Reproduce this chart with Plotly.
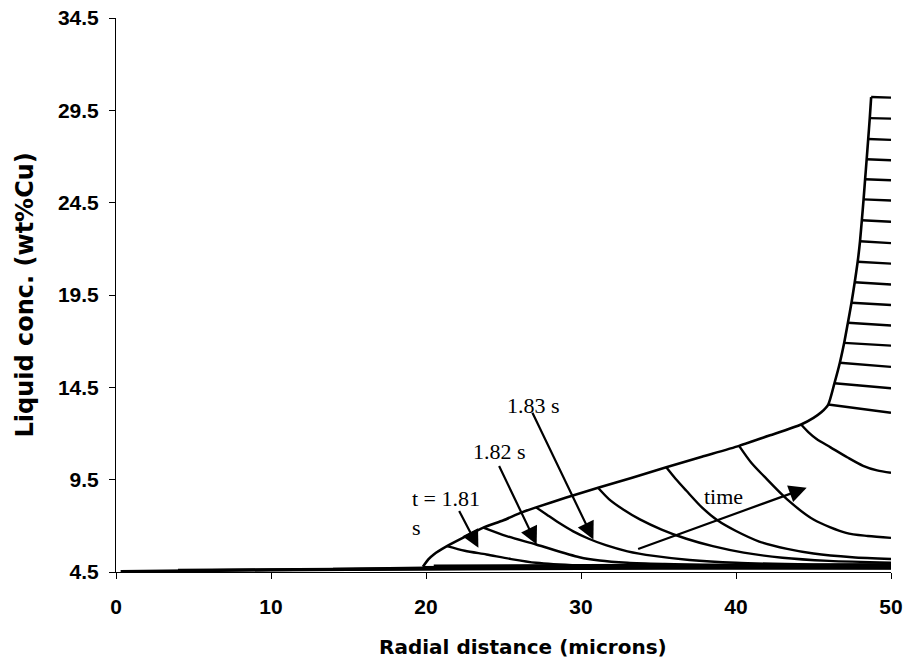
import plotly.graph_objects as go

# Interface (solid/liquid boundary) trajectory: radial position vs liquid concentration
envelope_x = [19.8, 20.15, 20.5, 21.35, 22.5, 23.7, 25.0, 26.1, 27.1, 29.0, 31.1, 33.3,
              35.5, 37.8, 40.2, 42.2, 44.2, 45.0, 45.5, 45.95, 46.35, 46.7, 46.98, 47.22,
              47.45, 47.66, 47.85, 48.0, 48.12, 48.23, 48.33, 48.43, 48.53, 48.63, 48.72]
envelope_y = [4.78, 5.18, 5.45, 5.9, 6.4, 6.9, 7.3, 7.7, 8.0, 8.52, 9.06, 9.61,
              10.17, 10.74, 11.33, 11.9, 12.49, 12.85, 13.15, 13.57, 14.72, 15.83, 16.91, 18.0,
              19.08, 20.19, 21.3, 22.41, 23.55, 24.68, 25.77, 26.85, 27.95, 29.08, 30.22]

# Early-time liquid profiles (nearly flat, close to the initial composition)
early_x = [[0.3, 5, 10, 15, 20, 25, 30, 35, 40, 45, 50],
           [4.0, 10, 15, 20, 30, 40, 50],
           [14.0, 20, 30, 40, 50],
           [19.8, 25, 30, 40, 50],
           [20.5, 30, 40, 50]]
early_y = [[4.53, 4.58, 4.61, 4.63, 4.66, 4.68, 4.69, 4.70, 4.70, 4.70, 4.70],
           [4.60, 4.63, 4.66, 4.70, 4.73, 4.74, 4.75],
           [4.65, 4.72, 4.76, 4.78, 4.80],
           [4.75, 4.78, 4.80, 4.82, 4.83],
           [4.82, 4.86, 4.88, 4.90]]

# Profiles after the interface starts moving (t = 1.81 s, 1.82 s, 1.83 s, ...)
profile_x = [[21.35, 22.5, 23.9, 25.5, 27.1, 29.9, 33.0, 38.0, 44.0, 50.0],
             [23.7, 25.2, 27.1, 29.9, 31.2, 33.0, 35.4, 40.0, 45.0, 50.0],
             [27.1, 27.8, 28.6, 29.5, 30.5, 31.6, 33.0, 34.7, 37.0, 40.0, 45.0, 50.0],
             [31.1, 31.8, 32.7, 33.8, 35.2, 36.8, 38.5, 40.5, 43.0, 46.0, 50.0],
             [35.5, 36.1, 36.8, 37.8, 38.8, 40.0, 41.5, 43.3, 45.0, 47.5, 50.0],
             [40.2, 41.0, 41.8, 43.3, 45.0, 47.1, 48.5, 50.0],
             [44.2, 44.7, 45.2, 46.1, 47.2, 48.2, 49.1, 50.0]]
profile_y = [[5.90, 5.65, 5.45, 5.20, 5.00, 4.85, 4.78, 4.75, 4.73, 4.72],
             [6.90, 6.44, 5.99, 5.30, 5.12, 5.00, 4.93, 4.85, 4.80, 4.78],
             [8.00, 7.60, 7.15, 6.70, 6.30, 5.95, 5.62, 5.37, 5.15, 5.00, 4.90, 4.85],
             [9.06, 8.45, 7.90, 7.35, 6.80, 6.30, 5.90, 5.55, 5.27, 5.10, 5.00],
             [10.17, 9.55, 8.90, 8.00, 7.30, 6.72, 6.15, 5.75, 5.50, 5.30, 5.20],
             [11.33, 10.40, 9.69, 8.43, 7.34, 6.62, 6.45, 6.35],
             [12.49, 12.05, 11.70, 11.25, 10.70, 10.25, 10.00, 9.87]]

# Late profiles: short segments from the interface to the outer boundary (r = 50)
late_start_x = [45.95, 46.35, 46.7, 46.98, 47.22, 47.45, 47.66, 47.85, 48.0, 48.12,
                48.23, 48.33, 48.43, 48.53, 48.63, 48.72]
late_start_y = [13.57, 14.72, 15.83, 16.91, 18.0, 19.08, 20.19, 21.3, 22.41, 23.55,
                24.68, 25.77, 26.85, 27.95, 29.08, 30.22]
late_end_y = [13.12, 14.45, 15.61, 16.76, 17.85, 18.96, 20.07, 21.2, 22.31, 23.47,
              24.62, 25.71, 26.8, 27.9, 29.05, 30.19]
outer_radius = 50.0

x_ticks = [0, 10, 20, 30, 40, 50]
y_ticks = [4.5, 9.5, 14.5, 19.5, 24.5, 29.5, 34.5]

LINE = "black"
fig = go.Figure()

for xs, ys in zip(early_x, early_y):
    fig.add_trace(go.Scatter(x=xs, y=ys, mode="lines",
                             line=dict(color=LINE, width=3), hoverinfo="skip"))

for xs, ys in zip(profile_x, profile_y):
    fig.add_trace(go.Scatter(x=xs, y=ys, mode="lines",
                             line=dict(color=LINE, width=2.4, shape="spline", smoothing=0.8),
                             hoverinfo="skip"))

for x0, y0, y1 in zip(late_start_x, late_start_y, late_end_y):
    fig.add_trace(go.Scatter(x=[x0, outer_radius], y=[y0, y1], mode="lines",
                             line=dict(color=LINE, width=2.4), hoverinfo="skip"))

fig.add_trace(go.Scatter(x=envelope_x, y=envelope_y, mode="lines",
                         line=dict(color=LINE, width=2.6, shape="spline", smoothing=0.6),
                         hoverinfo="skip"))

serif = dict(family="Liberation Serif, Times New Roman, serif", size=22, color="black")

# Labels for individual profiles
fig.add_annotation(x=18.97, y=7.67, xref="x", yref="y", text="t = 1.81<br>s",
                   showarrow=False, xanchor="left", yanchor="middle", align="left", font=serif)
fig.add_annotation(x=24.75, y=11.04, xref="x", yref="y", text="1.82 s",
                   showarrow=False, font=serif)
fig.add_annotation(x=26.95, y=13.54, xref="x", yref="y", text="1.83 s",
                   showarrow=False, font=serif)
fig.add_annotation(x=39.2, y=8.61, xref="x", yref="y", text="time",
                   showarrow=False, font=serif)

# Pointer arrows: (head_x, head_y, tail_x, tail_y)
arrows = [(23.38, 5.81, 22.09, 7.88),
          (27.14, 5.99, 24.67, 10.32),
          (30.8, 6.26, 26.82, 13.2),
          (44.56, 9.06, 33.59, 5.72)]
for hx, hy, tx, ty in arrows:
    fig.add_annotation(x=hx, y=hy, ax=tx, ay=ty, xref="x", yref="y", axref="x", ayref="y",
                       text="", showarrow=True, arrowhead=2, arrowsize=1.6,
                       arrowwidth=2.2, arrowcolor="black")

tick_font = dict(family="Liberation Sans, Arial, sans-serif", size=21, color="black",
                 weight="bold")
title_font = dict(family="DejaVu Sans, Verdana, sans-serif", color="black", weight="bold")

fig.add_annotation(x=0.525, y=-0.135, xref="paper", yref="paper",
                   text="Radial distance (microns)", showarrow=False,
                   xanchor="center", yanchor="middle",
                   font=dict(title_font, size=20))
fig.add_annotation(x=-0.118, y=0.5, xref="paper", yref="paper",
                   text="Liquid conc. (wt%Cu)", showarrow=False, textangle=-90,
                   xanchor="center", yanchor="middle",
                   font=dict(title_font, size=24))

fig.update_layout(
    width=907, height=660,
    margin=dict(l=116, r=16, t=18, b=88, autoexpand=False),
    paper_bgcolor="white", plot_bgcolor="white",
    showlegend=False,
    xaxis=dict(range=[0, 50], tickvals=x_ticks, ticks="outside", ticklen=6,
               tickcolor="black", showline=True, linecolor="black", linewidth=1,
               showgrid=False, zeroline=False, tickfont=tick_font, automargin=False,
               ticklabelstandoff=10),
    yaxis=dict(range=[4.5, 34.5], tickvals=y_ticks, tickformat=".1f", ticks="outside",
               ticklen=6, tickcolor="black", showline=True, linecolor="black",
               linewidth=1, showgrid=False, zeroline=False, tickfont=tick_font,
               automargin=False, ticklabelstandoff=6),
)

fig.write_html("out.html")
